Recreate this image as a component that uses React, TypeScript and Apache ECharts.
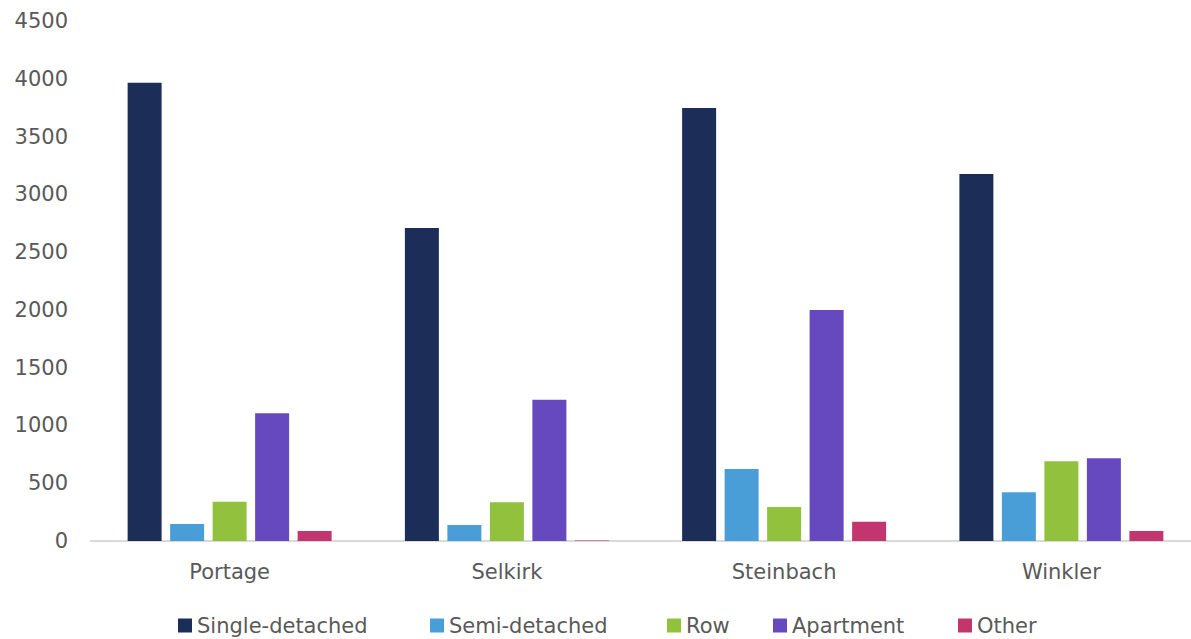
import React, { useEffect, useRef } from "react";
import * as echarts from "echarts";

const categories = ["Portage", "Selkirk", "Steinbach", "Winkler"];
const seriesNames = ["Single-detached", "Semi-detached", "Row", "Apartment", "Other"];
const singleDetached = [3965, 2708, 3747, 3176];
const semiDetached = [147, 138, 623, 421];
const row = [340, 335, 294, 690];
const apartment = [1105, 1223, 1999, 716];
const other = [87, 5, 167, 87];
const colors = ["#1c2d58", "#4a9ed8", "#92c13e", "#6649bf", "#c3356e"];
const legendLeft = [178, 430, 667, 773, 958];

const FONT = "DejaVu Sans";
const TEXT = "#595959";

export default function App() {
  const ref = useRef<HTMLDivElement>(null);
  useEffect(() => {
    if (!ref.current) return;
    const chart = echarts.init(ref.current, undefined, { renderer: "svg" });
    const values = [singleDetached, semiDetached, row, apartment, other];
    chart.setOption({
      animation: false,
      backgroundColor: "#ffffff",
      textStyle: { fontFamily: FONT },
      grid: { left: 91, right: 0, top: 21, bottom: 98 },
      legend: seriesNames.map((name, i) => ({
        left: legendLeft[i],
        top: 615,
        padding: 0,
        itemWidth: 14,
        itemHeight: 14,
        icon: "rect",
        textStyle: { fontFamily: FONT, fontSize: 21, color: TEXT },
        data: [name],
      })),
      xAxis: {
        type: "category",
        data: categories,
        axisTick: { show: false },
        axisLine: { lineStyle: { color: "#d9d9d9", width: 2 } },
        axisLabel: { fontFamily: FONT, fontSize: 21, color: TEXT, margin: 20 },
      },
      yAxis: {
        type: "value",
        min: 0,
        max: 4500,
        interval: 500,
        splitLine: { show: false },
        axisLine: { show: false },
        axisTick: { show: false },
        axisLabel: {
          fontFamily: FONT,
          fontSize: 21,
          color: TEXT,
          margin: 23,
          formatter: (v: number) => String(v),
        },
      },
      series: seriesNames.map((name, i) => ({
        name,
        type: "bar",
        data: values[i],
        barWidth: 34,
        barGap: "25%",
        itemStyle: { color: colors[i] },
      })),
    });
    return () => chart.dispose();
  }, []);
  return (
    <div style={{ position: "fixed", left: 0, top: 0, width: 1191, height: 639, overflow: "hidden", background: "#fff" }}>
      <div ref={ref} style={{ width: 1200, height: 639 }} />
    </div>
  );
}
